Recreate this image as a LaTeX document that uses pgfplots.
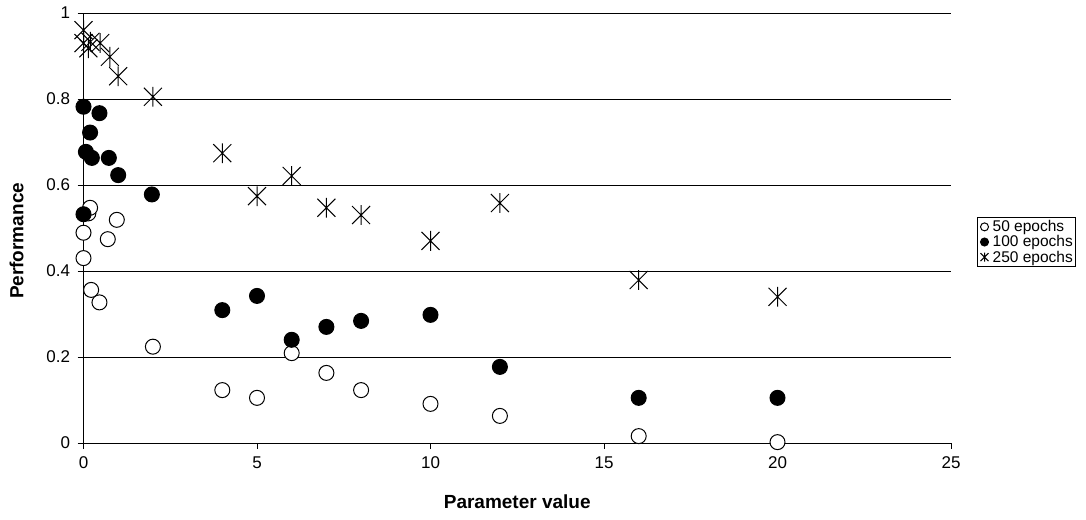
\documentclass[border=0pt]{standalone}
\usepackage{pgfplots}
\pgfplotsset{compat=1.18}
\usepackage{fontspec}
\setmainfont{Liberation Sans}
\pgfdeclareplotmark{xstar}{%
  \pgfpathmoveto{\pgfqpoint{-\pgfplotmarksize}{-\pgfplotmarksize}}%
  \pgfpathlineto{\pgfqpoint{\pgfplotmarksize}{\pgfplotmarksize}}%
  \pgfpathmoveto{\pgfqpoint{-\pgfplotmarksize}{\pgfplotmarksize}}%
  \pgfpathlineto{\pgfqpoint{\pgfplotmarksize}{-\pgfplotmarksize}}%
  \pgfpathmoveto{\pgfqpoint{0pt}{-1.1\pgfplotmarksize}}%
  \pgfpathlineto{\pgfqpoint{0pt}{1.1\pgfplotmarksize}}%
  \pgfusepathqstroke}
\begin{document}
\begin{tikzpicture}
\useasboundingbox (0,0) rectangle (1086pt,519pt);
\begin{axis}[
  at={(83.5pt,76pt)}, anchor=origin,
  scale only axis, width=867.5pt, height=430pt,
  xmin=0, xmax=25, ymin=0, ymax=1,
  xtick={0,5,10,15,20,25},
  ytick={0,0.2,0.4,0.6,0.8,1},
  yticklabels={0,0.2,0.4,0.6,0.8,1},
  axis x line*=bottom, axis y line*=left,
  axis line style={black, line width=1pt},
  ymajorgrids, grid style={black, line width=0.8pt},
  tick align=outside, major tick length=6pt,
  tick style={black, line width=0.8pt},
  ticklabel style={font=\fontsize{17}{20}\selectfont},
  /pgf/number format/assume math mode=true,
  xticklabel style={yshift=-4pt},
  yticklabel style={xshift=-4pt},
  clip=false,
  xlabel={Parameter value}, ylabel={Performance},
  every axis x label/.style={at={(axis description cs:0.5,-0.137)}, anchor=center, font=\fontsize{19}{22}\selectfont\bfseries},
  every axis y label/.style={at={(axis description cs:-0.077,0.47)}, rotate=90, anchor=center, font=\fontsize{19}{22}\selectfont\bfseries},
  legend style={at={(axis description cs:1.03,0.4674)}, anchor=west, draw=black, line width=0.8pt,
    font=\fontsize{15.5}{16}\selectfont, inner xsep=1pt, inner ysep=2pt, row sep=0pt,
    legend cell align=left,
    nodes={inner xsep=1.5pt, inner ysep=1.2pt}},
  legend image code/.code={\path (0cm,0cm) (0.42cm,0cm); \draw plot coordinates {(0.2cm,0cm)};},
  every legend image post/.append style={mark size=4pt},
]
\addplot[only marks, mark=*, mark size=7.5pt, mark options={draw=black, fill=white, line width=1pt}] coordinates {
(0,0.489) (0,0.43) (0.14,0.534) (0.19,0.547) (0.22,0.356) (0.46,0.327) (0.7,0.474) (0.96,0.519)
(2,0.224) (4,0.123) (5,0.105) (6,0.209) (7,0.163) (8,0.123) (10,0.091) (12,0.063) (16,0.016) (20,0.002)
};
\addlegendentry{50 epochs}
\addplot[only marks, mark=*, mark size=7.5pt, mark options={draw=black, fill=black, line width=1pt}] coordinates {
(0,0.782) (0.46,0.767) (0.19,0.722) (0.07,0.677) (0.24,0.663) (0.73,0.663) (1,0.623) (1.97,0.578)
(0,0.532) (4,0.309) (5,0.342) (6,0.24) (7,0.27) (8,0.284) (10,0.298) (12,0.177) (16,0.105) (20,0.105)
};
\addlegendentry{100 epochs}
\addplot[only marks, mark=xstar, mark size=9pt, mark options={draw=black, line width=1pt}] coordinates {
(0,0.96) (0,0.93) (0.2,0.933) (0.14,0.918) (0.48,0.93) (0.76,0.898) (1,0.853) (2,0.805)
(4,0.674) (5,0.574) (6,0.621) (7,0.547) (8,0.53) (10,0.47) (12,0.558) (16,0.379) (20,0.34)
};
\addlegendentry{250 epochs}
\end{axis}
\end{tikzpicture}
\end{document}
